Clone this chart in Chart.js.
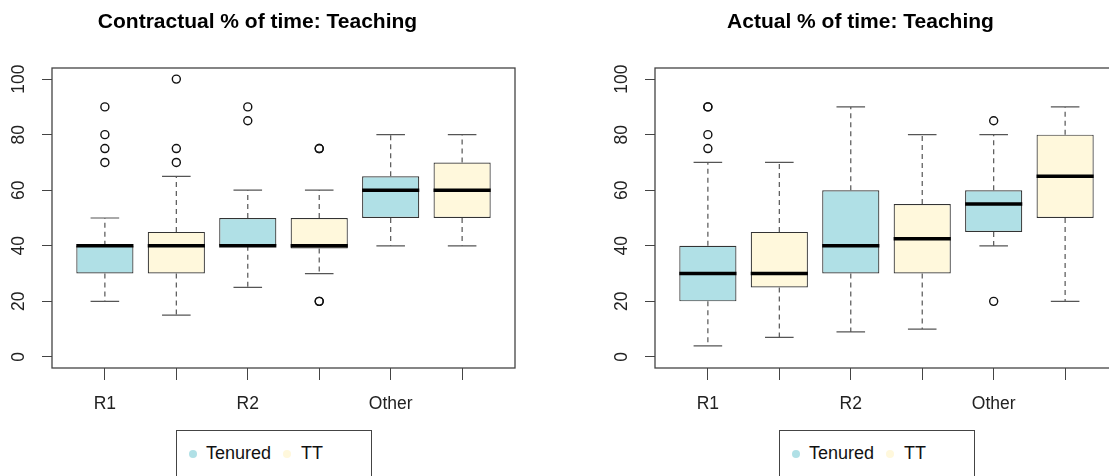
<!DOCTYPE html>
<html>
<head>
<meta charset="utf-8">
<script src="https://cdn.jsdelivr.net/npm/chart.js@4"></script>
<style>
  body { margin: 0; width: 1109px; height: 476px; overflow: hidden; background: #fff; position: relative; }
  canvas { position: absolute; top: 0; }
  #left { left: 0; }
  #right { left: 603px; }
  .legend { position: absolute; top: 430px; width: 194px; height: 70px; border: 1.5px solid #444;
            font: 18px "Liberation Sans", Arial, sans-serif; color: #111; }
  .legend span { position: absolute; top: 12px; }
  .legend .dot { width: 8px; height: 8px; border-radius: 50%; top: 19px; }
</style>
</head>
<body>
<canvas id="left" width="530" height="420"></canvas>
<canvas id="right" width="568" height="420"></canvas>
<div class="legend" id="legLeft" style="left:176px"></div>
<div class="legend" id="legRight" style="left:779px"></div>
<script>
const categories = ['R1', 'R2', 'Other'];
const groups = ['Tenured', 'TT'];
const groupColors = ['#B0E0E6', '#FFF8DC'];
const yTicks = [0, 20, 40, 60, 80, 100];

// [lower whisker, Q1, median, Q3, upper whisker] for R1, R2, Other
const contractTenured = [[20, 30, 40, 40, 50], [25, 40, 40, 50, 60], [40, 50, 60, 65, 80]];
const contractTT = [[15, 30, 40, 45, 65], [30, 39, 40, 50, 60], [40, 50, 60, 70, 80]];
const contractTenuredOut = [[70, 75, 80, 90], [85, 90], []];
const contractTTOut = [[70, 75, 100], [20, 20, 75, 75], []];

const actualTenured = [[4, 20, 30, 40, 70], [9, 30, 40, 60, 90], [40, 45, 55, 60, 80]];
const actualTT = [[7, 25, 30, 45, 70], [10, 30, 42.5, 55, 80], [20, 50, 65, 80, 90]];
const actualTenuredOut = [[75, 80, 90, 90], [], [20, 85]];
const actualTTOut = [[], [], []];

const FONT = '"Liberation Sans", Arial, sans-serif';

// whiskers, medians and the plot frame, placed via the chart scales
const boxParts = {
  id: 'boxParts',
  afterDatasetsDraw(chart) {
    const ctx = chart.ctx, y = chart.scales.y;
    chart.data.datasets.forEach((ds, i) => {
      if (!ds.stats) return;
      const meta = chart.getDatasetMeta(i);
      meta.data.forEach((bar, j) => {
        const s = ds.stats[j];
        const x = bar.x, w = bar.width;
        ctx.save();
        ctx.strokeStyle = '#555';
        ctx.lineWidth = 1.2;
        ctx.setLineDash([5, 4]);
        ctx.beginPath();
        ctx.moveTo(x, y.getPixelForValue(s[3])); ctx.lineTo(x, y.getPixelForValue(s[4]));
        ctx.moveTo(x, y.getPixelForValue(s[1])); ctx.lineTo(x, y.getPixelForValue(s[0]));
        ctx.stroke();
        ctx.setLineDash([]);
        ctx.beginPath();
        [s[0], s[4]].forEach(v => {
          const py = y.getPixelForValue(v);
          ctx.moveTo(x - w / 4, py); ctx.lineTo(x + w / 4, py);
        });
        ctx.stroke();
        ctx.strokeStyle = '#000';
        ctx.lineWidth = 3.5;
        ctx.beginPath();
        const my = y.getPixelForValue(s[2]);
        ctx.moveTo(x - w / 2, my); ctx.lineTo(x + w / 2, my);
        ctx.stroke();
        ctx.restore();
      });
    });
    const a = chart.chartArea;
    ctx.save();
    ctx.strokeStyle = '#444';
    ctx.lineWidth = 1.3;
    ctx.strokeRect(a.left, a.top, a.right - a.left, a.bottom - a.top);
    ctx.restore();
  }
};

function outlierPoints(list, offset) {
  const pts = [];
  list.forEach((vals, i) => vals.forEach(v => pts.push({ x: 2 * i + offset, y: v })));
  return pts;
}

function makeChart(id, title, ten, tt, tenOut, ttOut, padRight) {
  const sets = [ten, tt];
  const outs = [tenOut, ttOut];
  const datasets = [];
  groups.forEach((g, k) => {
    datasets.push({
      type: 'bar',
      label: g,
      data: sets[k].map((s, i) => ({ x: 2 * i + k + 1, y: [s[1], s[3]] })),
      stats: sets[k],
      backgroundColor: groupColors[k],
      borderColor: '#333',
      borderWidth: 1.2,
      borderSkipped: false,
      grouped: false,
      barPercentage: 0.8,
      categoryPercentage: 1
    });
  });
  groups.forEach((g, k) => {
    datasets.push({
      type: 'scatter',
      label: g + ' outliers',
      data: outlierPoints(outs[k], k + 1),
      pointStyle: 'circle',
      pointRadius: 4,
      backgroundColor: 'rgba(0,0,0,0)',
      borderColor: '#111',
      borderWidth: 1.4
    });
  });

  return new Chart(document.getElementById(id), {
    type: 'bar',
    data: { datasets },
    plugins: [boxParts],
    options: {
      responsive: false,
      animation: false,
      layout: { padding: { left: 0, right: padRight, top: 0, bottom: 0 } },
      plugins: {
        legend: { display: false },
        tooltip: { enabled: false },
        title: {
          display: true,
          text: title,
          color: '#000',
          font: { family: FONT, size: 21, weight: 'bold', lineHeight: 1.2 },
          padding: { top: 10, bottom: 32.8 }
        }
      },
      scales: {
        x: {
          type: 'linear',
          min: 0.26,
          max: 6.74,
          offset: false,
          afterBuildTicks: s => { s.ticks = [1, 2, 3, 4, 5, 6].map(v => ({ value: v })); },
          afterFit: s => { s.height = 52; },
          border: { display: false },
          grid: { drawOnChartArea: false, offset: false, tickLength: 12, color: '#444', lineWidth: 1 },
          ticks: {
            padding: 14,
            color: '#222',
            font: { family: FONT, size: 17.5 },
            autoSkip: false,
            maxRotation: 0,
            callback: v => (v % 2 === 1 ? categories[(v - 1) / 2] : '')
          }
        },
        y: {
          min: -4,
          max: 104,
          afterBuildTicks: s => { s.ticks = yTicks.map(v => ({ value: v })); },
          afterFit: s => { s.width = 52; },
          border: { display: false },
          grid: { drawOnChartArea: false, tickLength: 10, color: '#444', lineWidth: 1 },
          ticks: {
            minRotation: 90,
            maxRotation: 90,
            crossAlign: 'center',
            padding: 8,
            color: '#222',
            font: { family: FONT, size: 17.5 }
          }
        }
      }
    }
  });
}

makeChart('left', 'Contractual % of time: Teaching', contractTenured, contractTT, contractTenuredOut, contractTTOut, 15);
makeChart('right', 'Actual % of time: Teaching', actualTenured, actualTT, actualTenuredOut, actualTTOut, 53);

function fillLegend(id) {
  const el = document.getElementById(id);
  const dotX = [12, 106], textX = [29, 124];
  groups.forEach((g, k) => {
    const d = document.createElement('span');
    d.className = 'dot';
    d.style.left = dotX[k] + 'px';
    d.style.background = groupColors[k];
    el.appendChild(d);
    const t = document.createElement('span');
    t.style.left = textX[k] + 'px';
    t.textContent = g;
    el.appendChild(t);
  });
}
fillLegend('legLeft');
fillLegend('legRight');
</script>
</body>
</html>
